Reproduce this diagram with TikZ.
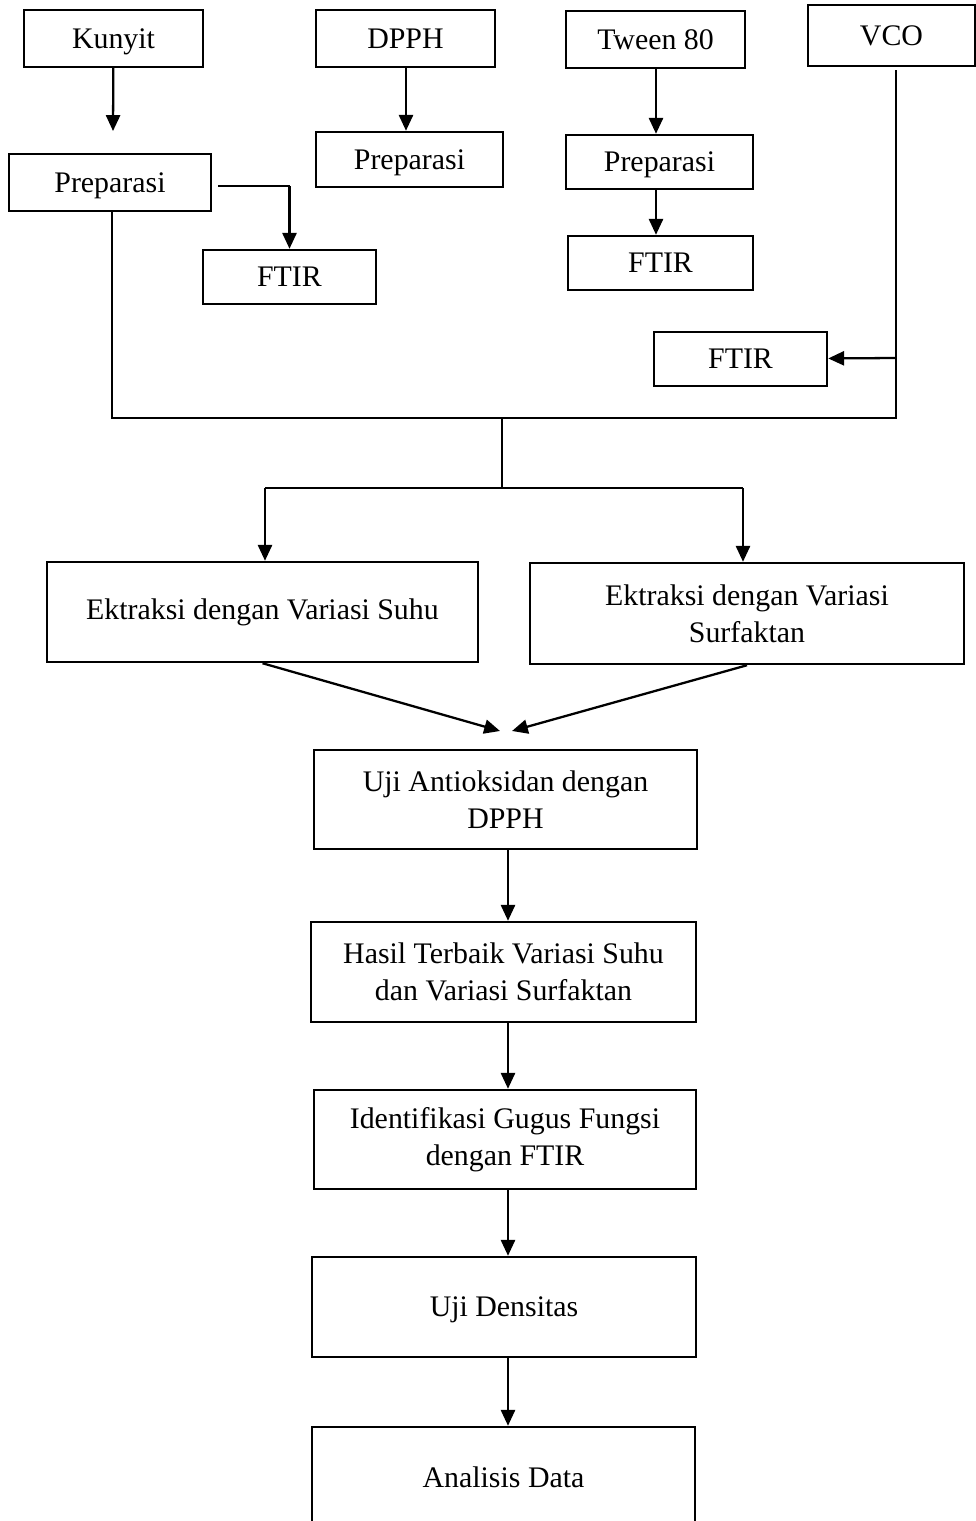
\documentclass[tikz,border=0pt]{standalone}
\usepackage{fontspec}
\setmainfont{Liberation Serif}
\usetikzlibrary{arrows.meta,positioning}

\tikzset{
  box/.style 2 args={draw, line width=1.4pt, minimum width=#1*0.02cm,
    minimum height=#2*0.02cm, inner sep=0pt, align=center},
  one/.style={text depth=0pt},
  arr/.style={line width=1.3pt, -{Triangle[length=9pt,width=8pt]}},
  tie/.style={line width=0.7pt}
}

\begin{document}
\begin{tikzpicture}[x=0.02cm,y=-0.02cm,font=\fontsize{17}{21}\selectfont]
    \clip (0,0) rectangle (976,1521);
    \fill[white] (0,0) rectangle (976,1521);

    % bahan
    \node[box={179}{57},one]   (kunyit) at (113.5,38.5) {Kunyit};
    \node[box={179}{57},one]   (dpph)   at (405.5,38.5) {DPPH};
    \node[box={179}{57},one]   (tween)  at (655.5,39.5) {Tween 80};
    \node[box={167}{61},one]   (vco)    at (891.5,35.5) {VCO};

    % preparasi dan FTIR
    \node[box={202}{57},one]   (prep1)  at (110,182.5)  {Preparasi};
    \node[box={187}{55},one]   (prep2)  at (409.5,159.5) {Preparasi};
    \node[box={187}{54},one]   (prep3)  at (659.5,162)  {Preparasi};
    \node[box={173}{54},one]   (ftir1)  at (289.5,277)  {FTIR};
    \node[box={185}{54},one]   (ftir3)  at (660.5,263)  {FTIR};
    \node[box={173}{54},one]   (ftir4)  at (740.5,359)  {FTIR};

    % ekstraksi
    \node[box={431}{100}]  (suhu)   at (262.5,612)  {Ektraksi dengan Variasi Suhu};
    \node[box={434}{101}]  (surf)   at (747,613.5)  {Ektraksi dengan Variasi\\Surfaktan};

    % tahap lanjut
    \node[box={383}{99}]   (uji)    at (505.5,799.5) {Uji Antioksidan dengan\\DPPH};
    \node[box={385}{100}]  (hasil)  at (503.5,972)  {Hasil Terbaik Variasi Suhu\\dan Variasi Surfaktan};
    \node[box={382}{99}]   (ident)  at (505,1139.5) {Identifikasi Gugus Fungsi\\dengan FTIR};
    \node[box={384}{100},one]  (dens)   at (504,1307)   {Uji Densitas};
    \node[box={383}{100},one]  (anal)   at (503.5,1477) {Analisis Data};

    \coordinate (k1)   at (113,131);
    \coordinate (d1)   at (406,67);
    \coordinate (t1)   at (656,68);
    \coordinate (p1a)  at (218,186);
    \coordinate (p1b)  at (289.5,186);
    \coordinate (p1c)  at (112,211);
    \coordinate (v1)   at (896,70);
    \coordinate (v2)   at (896,358);
    \coordinate (v3)   at (896,418);
    \coordinate (jn)   at (112,418);
    \coordinate (mid)  at (502,418);
    \coordinate (sp)   at (502,488);
    \coordinate (spl)  at (265,488);
    \coordinate (spr)  at (743,488);
    \coordinate (inl)  at (500,731);
    \coordinate (inr)  at (512,731);
    \coordinate (col)  at (508,0);

    \draw[arr] (kunyit) -- (k1);
    \draw[arr] (d1) -- (d1 |- prep2.north);
    \draw[arr] (t1) -- (t1 |- prep3.north);
    \draw[arr] (t1 |- prep3.south) -- (t1 |- ftir3.north);
    \draw[tie] (p1a) -- (p1b);
    \draw[arr] (p1b) -- (ftir1);
    \draw[tie] (v1) -- (v3) -- (jn) -- (p1c);
    \draw[arr] (v2) -- (ftir4);
    \draw[tie] (mid) -- (sp);
    \draw[tie] (spl) -- (spr);
    \draw[arr] (spl) -- (spl |- suhu.north);
    \draw[arr] (spr) -- (spr |- surf.north);
    \draw[arr] (suhu.south) -- (inl);
    \draw[arr] (surf.south) -- (inr);
    \draw[arr] (col |- uji.south) -- (col |- hasil.north);
    \draw[arr] (col |- hasil.south) -- (col |- ident.north);
    \draw[arr] (col |- ident.south) -- (col |- dens.north);
    \draw[arr] (col |- dens.south) -- (col |- anal.north);
\end{tikzpicture}
\end{document}
